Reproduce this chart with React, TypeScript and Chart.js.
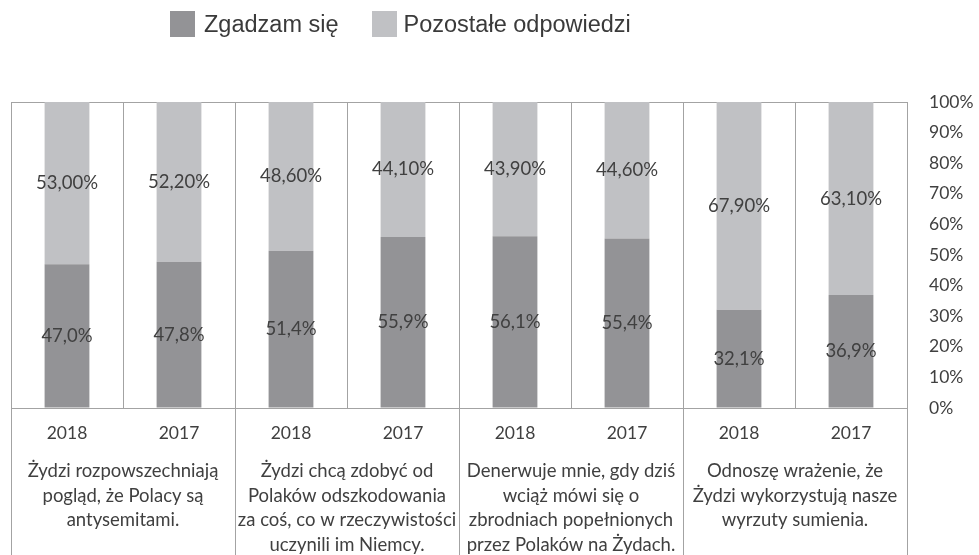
import React, { useEffect, useRef } from 'react';
import { Chart, registerables } from 'chart.js';

Chart.register(...registerables);

const years = ['2018', '2017', '2018', '2017', '2018', '2017', '2018', '2017'];
const groupLabels = [
  ['Żydzi rozpowszechniają', 'pogląd, że Polacy są', 'antysemitami.'],
  ['Żydzi chcą zdobyć od', 'Polaków odszkodowania', 'za coś, co w rzeczywistości', 'uczynili im Niemcy.'],
  ['Denerwuje mnie, gdy dziś', 'wciąż mówi się o', 'zbrodniach popełnionych', 'przez Polaków na Żydach.'],
  ['Odnoszę wrażenie, że', 'Żydzi wykorzystują nasze', 'wyrzuty sumienia.'],
];
const seriesNames = ['Zgadzam się', 'Pozostałe odpowiedzi'];
const agreeValues = [47.0, 47.8, 51.4, 55.9, 56.1, 55.4, 32.1, 36.9];
const otherValues = [53.0, 52.2, 48.6, 44.1, 43.9, 44.6, 67.9, 63.1];
const labelDecimals = [1, 2];

const DARK = '#939396';
const LIGHT = '#c0c1c4';
const GRID = '#a3a3a3';
const TEXT = '#404040';
const FONT = 'Lato, "Open Sans", sans-serif';

const dataLabelPlugin = {
  id: 'dataLabels',
  afterDatasetsDraw(chart: any) {
    const ctx = chart.ctx;
    ctx.save();
    ctx.font = `18.5px ${FONT}`;
    ctx.fillStyle = TEXT;
    ctx.textAlign = 'center';
    ctx.textBaseline = 'middle';
    chart.data.datasets.forEach((ds: any, di: number) => {
      const meta = chart.getDatasetMeta(di);
      meta.data.forEach((el: any, i: number) => {
        const v = ds.data[i] as number;
        const txt = v.toFixed(labelDecimals[di]).replace('.', ',') + '%';
        ctx.fillText(txt, el.x, (el.y + el.base) / 2);
      });
    });
    ctx.restore();
  },
};

const separatorPlugin = {
  id: 'separators',
  afterDraw(chart: any) {
    const ctx = chart.ctx;
    const ca = chart.chartArea;
    const xs = chart.scales.x;
    const bounds = [ca.left];
    for (let i = 1; i < years.length - 1; i += 2) {
      bounds.push((xs.getPixelForValue(i) + xs.getPixelForValue(i + 1)) / 2);
    }
    bounds.push(ca.right);
    ctx.save();
    ctx.strokeStyle = GRID;
    ctx.lineWidth = 1;
    ctx.beginPath();
    bounds.forEach((x) => {
      const px = Math.round(x) + 0.5;
      ctx.moveTo(px, ca.bottom);
      ctx.lineTo(px, chart.height);
    });
    ctx.stroke();
    ctx.restore();
  },
};

export default function App() {
  const canvasRef = useRef<HTMLCanvasElement | null>(null);

  useEffect(() => {
    if (!canvasRef.current) return;
    const chart = new Chart(canvasRef.current, {
      type: 'bar',
      data: {
        labels: years,
        datasets: [
          {
            label: seriesNames[0],
            data: agreeValues,
            backgroundColor: DARK,
            borderWidth: 0,
            categoryPercentage: 1,
            barPercentage: 0.4,
          },
          {
            label: seriesNames[1],
            data: otherValues,
            backgroundColor: LIGHT,
            borderWidth: 0,
            categoryPercentage: 1,
            barPercentage: 0.4,
          },
        ],
      },
      options: {
        animation: false,
        responsive: true,
        maintainAspectRatio: false,
        layout: { padding: { top: 102, left: 11, right: 0, bottom: 0 } },
        plugins: {
          legend: { display: false },
          tooltip: { enabled: false },
        },
        scales: {
          x: {
            type: 'category',
            position: 'bottom',
            stacked: true,
            offset: true,
            weight: 0,
            grid: { display: true, offset: true, color: GRID, drawTicks: false, lineWidth: 1 },
            border: { display: true, color: GRID },
            ticks: {
              color: TEXT,
              font: { family: FONT, size: 17.5 },
              padding: 15,
              maxRotation: 0,
              autoSkip: false,
            },
            afterFit: (s: any) => {
              s.height = 40;
            },
          },
          x2: {
            type: 'category',
            position: 'bottom',
            labels: groupLabels as any,
            offset: true,
            weight: 1,
            grid: { display: false, drawTicks: false },
            border: { display: false },
            ticks: {
              color: TEXT,
              font: { family: FONT, size: 18.5, lineHeight: 1.33 },
              padding: 11,
              maxRotation: 0,
              autoSkip: false,
            },
            afterFit: (s: any) => {
              s.height = 107;
            },
          },
          y: {
            position: 'right',
            stacked: true,
            min: 0,
            max: 100,
            grid: {
              drawTicks: false,
              color: (c: any) => (c.tick && c.tick.value === 100 ? GRID : 'rgba(0,0,0,0)'),
            },
            border: { display: true, color: GRID },
            ticks: {
              stepSize: 10,
              color: TEXT,
              font: { family: FONT, size: 17.5 },
              padding: 22,
              callback: (v: any) => `${v}%`,
            },
            afterFit: (s: any) => {
              s.width = 72;
            },
          },
        },
      },
      plugins: [dataLabelPlugin, separatorPlugin],
    } as any);
    return () => chart.destroy();
  }, []);

  const legendText: React.CSSProperties = {
    fontFamily: '"Liberation Sans", Arial, sans-serif',
    fontSize: '23.5px',
    color: '#3a3a3a',
    lineHeight: '26px',
    whiteSpace: 'nowrap',
  };

  return (
    <div style={{ position: 'fixed', left: 0, top: 0, width: 979, height: 555, background: '#fff' }}>
      <canvas ref={canvasRef} />
      <div
        style={{
          position: 'absolute',
          left: 170,
          top: 11,
          display: 'flex',
          alignItems: 'center',
        }}
      >
        <span style={{ display: 'inline-block', width: 25, height: 26, background: DARK }} />
        <span style={{ ...legendText, marginLeft: 9 }}>{seriesNames[0]}</span>
        <span style={{ display: 'inline-block', width: 25, height: 26, background: LIGHT, marginLeft: 33 }} />
        <span style={{ ...legendText, marginLeft: 7 }}>{seriesNames[1]}</span>
      </div>
    </div>
  );
}
